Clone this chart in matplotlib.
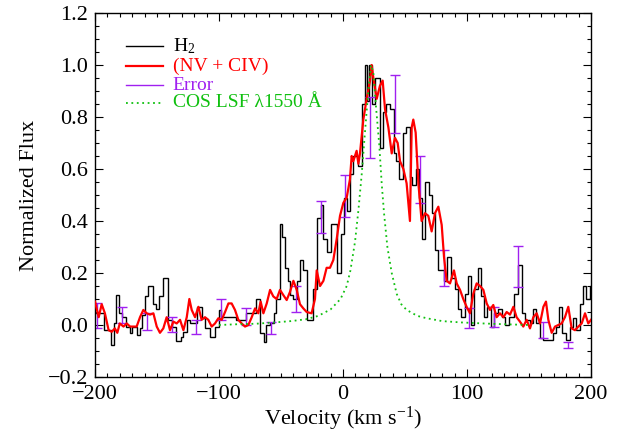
import matplotlib
matplotlib.use("Agg")
import matplotlib.pyplot as plt
import numpy as np
from matplotlib.ticker import MultipleLocator

plt.rcParams['font.family'] = ['Liberation Serif', 'DejaVu Serif']
plt.rcParams['mathtext.fontset'] = 'custom'
plt.rcParams['mathtext.rm'] = 'Liberation Serif'
plt.rcParams['mathtext.default'] = 'regular'

# H2 profile (histogram): bin edges and flux
h2_edges = [-200, -193, -187, -185, -183, -181, -178, -175, -172, -170, -166, -164, -162,
            -160, -157, -153, -151, -148, -145, -141, -138, -135, -131, -129, -126, -123,
            -118, -114, -111, -107, -103, -100, -98, -86, -78, -70, -67, -64, -62, -59,
            -56, -54, -51, -49, -47, -44, -43, -40, -37, -35, -32, -29, -24, -21, -18,
            -16, -13, -10, -5, -2, 0.5, 3, 5.6, 8.3, 12.4, 15, 17.7, 19.5, 21, 23, 25.5,
            29.5, 32, 34.5, 38, 41, 43, 45.5, 48.5, 51, 54, 56, 58.5, 61, 64, 66, 69, 72,
            74.5, 77, 81.5, 84, 87, 90, 92.5, 95, 98, 101, 103, 106, 108.5, 111, 114,
            116.5, 119, 122, 125, 128, 131, 134, 138, 141, 144, 147, 151, 153, 156, 159,
            161, 169, 172, 174, 177, 180, 183, 185.5, 188, 191, 193.5, 196, 199, 200]
h2_flux = [0.045, -0.02, -0.077, 0.006, 0.115, 0.045, 0.03, -0.006, -0.03, -0.006, -0.04,
           -0.013, 0.04, 0.11, 0.15, 0.08, 0.06, 0.11, 0.18, 0.02, -0.006, -0.06, -0.045,
           -0.025, 0.02, 0.006, 0.07, 0.026, -0.013, -0.045, -0.006, 0.058, 0.03, 0.02,
           0.045, 0.1, -0.03, -0.067, 0.0, 0.006, 0.045, 0.1, 0.39, 0.34, 0.22, 0.17,
           0.115, 0.1, 0.17, 0.25, 0.21, 0.02, 0.14, 0.41, 0.46, 0.33, 0.28, 0.39, 0.2,
           0.35, 0.49, 0.44, 0.58, 0.65, 0.61, 0.85, 1.0, 0.86, 1.0, 0.85, 0.95, 0.68,
           0.82, 0.85, 0.83, 0.66, 0.63, 0.56, 0.74, 0.76, 0.57, 0.54, 0.6, 0.49, 0.33,
           0.55, 0.5, 0.43, 0.29, 0.21, 0.17, 0.26, 0.18, 0.14, 0.06, 0.03, 0.12, 0.19,
           0.0, 0.14, 0.22, 0.11, 0.03, 0.07, -0.006, 0.045, 0.06, 0.03, 0.0, 0.03, 0.12,
           0.23, 0.045, 0.02, 0.006, 0.06, 0.006, -0.05, -0.058, -0.03, -0.006, 0.07,
           -0.03, -0.058, -0.006, 0.026, -0.02, 0.08, 0.15, 0.1, 0.15]

# NV + CIV profile
nc_vel = [-200, -197, -194.6, -192, -189, -186.5, -184, -182, -180, -177, -174.4, -171.7,
          -169, -166.4, -163.7, -161, -158.3, -155.6, -152.9, -150.2, -147.6, -144.9,
          -142.2, -139.5, -136.8, -134.1, -131.4, -128.7, -126, -123.9, -122, -119.3,
          -116.6, -114, -111.3, -108.6, -105.9, -103.2, -100.5, -97.8, -95.1, -92.4,
          -89.8, -87.1, -84.4, -81.7, -79, -76.3, -73.6, -70.9, -68.3, -66.4, -64.2,
          -61.5, -58.8, -56.2, -53.5, -50.8, -48.1, -45.4, -42.7, -40, -37.3, -34.7,
          -32, -29.3, -25.3, -22.6, -21.2, -18.5, -15.8, -13.2, -10.5, -7.8, -5.1, -2.4,
          0.3, 3, 5.6, 7, 8.3, 11, 12.4, 13.7, 16.4, 19.1, 21.8, 23.1, 24.5, 27.2, 29.8,
          32, 33.9, 36.6, 39.3, 41.9, 44.1, 46, 48.7, 51.3, 54, 55.4, 56.7, 58.6, 60.8,
          63.4, 66.1, 68.8, 71.5, 74.2, 76.9, 79.6, 81.5, 83.6, 86.3, 89.5, 91.7, 94.4,
          97, 99.7, 102.4, 105.1, 107.8, 110.5, 113.2, 115.9, 118.5, 121.2, 123.9, 126.6,
          129.3, 132, 134.7, 137.4, 140, 142.7, 145.4, 148.1, 150.8, 153.5, 156.2, 158.9,
          161.6, 163.7, 165.6, 168.3, 171, 173.6, 176.3, 179, 181.7, 184.4, 187.1, 189.8,
          192.5, 195.2, 197.8, 200]
nc_flux = [0.09, 0.03, 0.08, 0.045, -0.02, -0.026, -0.013, -0.03, 0.006, -0.006, 0.006,
           -0.006, -0.006, -0.006, 0.03, 0.058, 0.045, 0.04, 0.045, -0.006, -0.03, -0.013,
           0.03, -0.02, 0.013, 0.006, 0.02, -0.02, 0.03, 0.1, 0.058, 0.03, 0.07, 0.02,
           0.03, 0.02, -0.006, 0.006, 0.026, 0.02, 0.05, 0.083, 0.083, 0.058, 0.02, 0.006,
           -0.006, 0.0, 0.03, 0.064, 0.045, 0.09, 0.045, 0.083, 0.135, 0.11, 0.1, 0.135,
           0.115, 0.096, 0.128, 0.17, 0.135, 0.08, 0.064, 0.05, 0.045, 0.1, 0.21, 0.15,
           0.17, 0.22, 0.22, 0.25, 0.33, 0.42, 0.47, 0.49, 0.56, 0.65, 0.63, 0.67, 0.62,
           0.66, 0.79, 0.87, 0.94, 1.0, 0.95, 0.87, 0.92, 0.94, 0.83, 0.76, 0.66, 0.72,
           0.7, 0.63, 0.6, 0.545, 0.4, 0.76, 0.79, 0.74, 0.545, 0.4, 0.43, 0.42, 0.36,
           0.43, 0.455, 0.385, 0.26, 0.17, 0.16, 0.21, 0.16, 0.135, 0.1, 0.07, 0.045,
           0.12, 0.16, 0.15, 0.135, 0.083, 0.058, 0.077, 0.03, 0.045, 0.03, 0.05, 0.04,
           0.07, 0.03, 0.013, -0.006, 0.02, -0.013, 0.03, 0.045, 0.006, 0.07, 0.09, 0.02,
           -0.03, -0.006, 0.0, 0.006, 0.03, 0.07, -0.013, -0.02, -0.006, 0.006, 0.045,
           0.006, 0.02]

# error bars
err_vel = [-198.6, -178.5, -158.3, -138.1, -118.5, -98.4, -78.2, -58.3, -38.2, -18.0,
           1.6, 21.8, 42.0, 62.1, 81.5, 101.6, 121.8, 141.4, 161.6, 181.7]
err_flux = [0.035, 0.038, 0.013, 0.002, -0.007, 0.06, 0.032, -0.011, 0.1, 0.415, 0.497,
            0.758, 0.85, 0.56, 0.22, 0.026, 0.032, 0.225, -0.02, -0.077]
err_size = [0.048, 0.032, 0.032, 0.028, 0.027, 0.04, 0.032, 0.024, 0.05, 0.063, 0.08,
            0.117, 0.11, 0.09, 0.07, 0.038, 0.038, 0.077, 0.03, 0.013]

# COS line spread function
lsf_vel = [-100, -85, -70, -55, -42, -30, -20, -10, -2, 3, 6, 9.7, 12.4, 15.1, 17.7, 20.4,
           22.6, 24.5, 26.6, 29.3, 31.2, 33.1, 35.8, 39.3, 43.3, 47, 51.3, 60, 67.5, 80,
           95, 113, 130, 150]
lsf_flux = [0.0, 0.003, 0.005, 0.01, 0.015, 0.022, 0.035, 0.06, 0.1, 0.15, 0.21, 0.32,
            0.44, 0.58, 0.74, 0.9, 1.0, 0.97, 0.84, 0.69, 0.545, 0.43, 0.3, 0.2, 0.12,
            0.08, 0.058, 0.035, 0.026, 0.015, 0.01, 0.006, 0.003, 0.0]

purple = '#a020f0'
green = '#10c010'

fig = plt.figure(figsize=(6.18, 4.33), dpi=100)
ax = fig.add_axes([0.1537, 0.1293, 0.8026, 0.8407])

ax.stairs(h2_flux, h2_edges, color='black', lw=1.0, zorder=1, baseline=None)
ax.errorbar(err_vel, err_flux, yerr=err_size, fmt='none', ecolor=purple,
            elinewidth=1.0, capsize=3.5, capthick=1.0, zorder=2)
ax.plot(nc_vel, nc_flux, color='red', lw=1.6, zorder=3)
ax.plot(lsf_vel, lsf_flux, color=green, lw=1.3, ls=(0, (1, 2.0)), zorder=4)

ax.set_xlim(-200, 200)
ax.set_ylim(-0.2, 1.2)
ax.xaxis.set_major_locator(MultipleLocator(100))
ax.xaxis.set_minor_locator(MultipleLocator(10))
ax.yaxis.set_major_locator(MultipleLocator(0.2))
ax.yaxis.set_minor_locator(MultipleLocator(0.05))
ax.yaxis.set_major_formatter(plt.FuncFormatter(lambda v, p: f'{v:.1f}'.replace('-', '\u2212')))
ax.tick_params(which='both', direction='in', top=True, right=True, labelsize=16, width=0.8)
ax.tick_params(which='major', length=5.5)
ax.tick_params(which='minor', length=3)
ax.tick_params(axis='x', pad=6)
ax.tick_params(axis='y', pad=5)
for s in ax.spines.values():
    s.set_linewidth(1.0)

ax.set_xlabel('Velocity (km s$^{\u22121}$)', fontsize=16, labelpad=0)
ax.set_ylabel('Normalized Flux', fontsize=16, labelpad=6)

# legend drawn by hand to match the tight row spacing
leg_labels = ['H$_2$', '(NV + CIV)', 'Error', 'COS LSF \u03bb1550 \u00c5']
leg_colors = ['black', 'red', purple, green]
leg_styles = ['-', '-', '-', (0, (1, 2.0))]
leg_widths = [1.0, 1.6, 1.0, 1.3]
leg_rows = [0.909, 0.854, 0.802, 0.753]
for lab, col, st, w, yy in zip(leg_labels, leg_colors, leg_styles, leg_widths, leg_rows):
    ax.plot([0.0625, 0.137], [yy, yy], transform=ax.transAxes, color=col, ls=st, lw=w)
    ax.text(0.157, yy, lab, transform=ax.transAxes, color=col, fontsize=14,
            va='center', ha='left')

fig.savefig('out.png', dpi=100)
